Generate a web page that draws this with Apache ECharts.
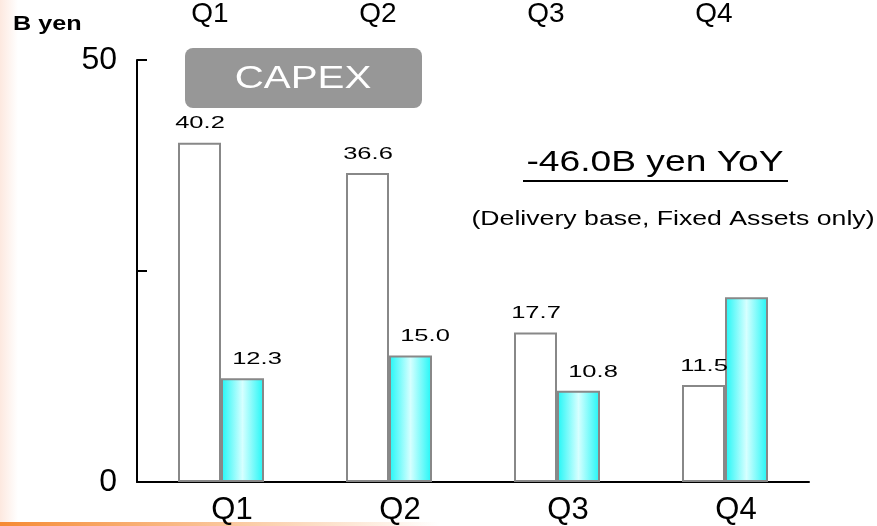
<!DOCTYPE html>
<html>
<head>
<meta charset="utf-8">
<script src="https://cdn.jsdelivr.net/npm/echarts@6/dist/echarts.min.js"></script>
<style>
  html, body { margin: 0; padding: 0; background: #fff; }
  #chart { width: 877px; height: 526px; }
</style>
</head>
<body>
<div id="chart"></div>
<script>
// Data
const quarters = ["Q1", "Q2", "Q3", "Q4"];
const planValues = [40.2, 36.6, 17.7, 11.5];    // white bars
const actualValues = [12.3, 15.0, 10.8, 21.9];  // cyan bars
const actualLabelShown = [true, true, true, false];
const yTickLabels = [0, 50];

const FONT = '"Liberation Sans", Arial, sans-serif';

const chartDom = document.getElementById("chart");
const myChart = echarts.init(chartDom);

// stretched value labels drawn through the axis scale
function valueLabels(values, dx, shown) {
  return {
    type: "custom",
    data: values.map((v, i) => [i, v]),
    z: 5,
    renderItem: (params, api) => {
      if (shown && !shown[params.dataIndex]) return null;
      const p = api.coord([api.value(0), api.value(1)]);
      return {
        type: "text",
        x: p[0] + dx,
        y: p[1] - 19,
        scaleX: 1.5,
        style: {
          text: api.value(1).toFixed(1),
          align: "center",
          verticalAlign: "middle",
          font: "17px " + FONT,
          fill: "#000",
        },
      };
    },
  };
}

const option = {
  backgroundColor: "#fff",
  animation: false,
  textStyle: { fontFamily: FONT },
  grid: { left: 137, right: 68, top: 60, bottom: 37 },
  xAxis: [
    {
      type: "category",
      data: quarters,
      position: "bottom",
      axisLine: { lineStyle: { color: "#000", width: 2 } },
      axisTick: { show: false },
      axisLabel: {
        fontSize: 31,
        color: "#000",
        margin: 13,
        padding: [0, 0, 0, 22],
      },
    },
    {
      type: "category",
      data: quarters,
      position: "top",
      axisLine: { show: false },
      axisTick: { show: false },
      axisLabel: {
        fontSize: 28,
        color: "#000",
        margin: 32,
        padding: [0, 22, 0, 0],
      },
    },
  ],
  yAxis: {
    type: "value",
    min: 0,
    max: 50,
    interval: 25,
    axisLine: { show: true, lineStyle: { color: "#000", width: 2 } },
    axisTick: { show: true, inside: true, length: 10, lineStyle: { color: "#000", width: 2 } },
    splitLine: { show: false },
    axisLabel: {
      fontSize: 32,
      color: "#000",
      margin: 20,
      padding: [0, 0, 20, 0],
      formatter: (v) => (yTickLabels.includes(v) ? String(v) : ""),
    },
  },
  series: [
    {
      name: "plan",
      type: "bar",
      data: planValues,
      barWidth: 43,
      barGap: "0%",
      itemStyle: { color: "#fff", borderColor: "#888", borderWidth: 2 },
    },
    {
      name: "actual",
      type: "bar",
      data: actualValues,
      barWidth: 43,
      barGap: "0%",
      itemStyle: {
        color: new echarts.graphic.LinearGradient(0, 0, 1, 0, [
          { offset: 0, color: "#1ef6f6" },
          { offset: 0.5, color: "#d6ffff" },
          { offset: 1, color: "#1ef6f6" },
        ]),
        borderColor: "#888",
        borderWidth: 2,
      },
    },
    valueLabels(planValues, -21),
    valueLabels(actualValues, 36, actualLabelShown),
  ],
  graphic: [
    // faint pink strip on the left edge
    {
      type: "rect",
      shape: { x: 0, y: 0, width: 18, height: 526 },
      style: {
        fill: new echarts.graphic.LinearGradient(0, 0, 1, 0, [
          { offset: 0, color: "rgba(250,205,185,0.45)" },
          { offset: 1, color: "rgba(250,205,185,0)" },
        ]),
      },
      silent: true,
    },
    // orange line at the bottom
    {
      type: "rect",
      shape: { x: 0, y: 522, width: 440, height: 4 },
      style: {
        fill: new echarts.graphic.LinearGradient(0, 0, 1, 0, [
          { offset: 0, color: "#f58a33" },
          { offset: 1, color: "rgba(245,138,51,0)" },
        ]),
      },
      silent: true,
    },
    {
      type: "text",
      x: 13,
      y: 24,
      scaleX: 1.2,
      style: { text: "B yen", font: "bold 21px " + FONT, fill: "#000", verticalAlign: "middle" },
    },
    {
      type: "rect",
      shape: { x: 185, y: 48, width: 237, height: 60, r: 8 },
      style: { fill: "#979797" },
    },
    {
      type: "text",
      x: 303,
      y: 79,
      scaleX: 1.3,
      style: { text: "CAPEX", font: "31px " + FONT, fill: "#fff", align: "center", verticalAlign: "middle" },
    },
    {
      type: "text",
      x: 655,
      y: 163,
      scaleX: 1.24,
      style: { text: "-46.0B yen YoY", font: "30px " + FONT, fill: "#000", align: "center", verticalAlign: "middle" },
    },
    {
      type: "line",
      shape: { x1: 523, y1: 181, x2: 788, y2: 181 },
      style: { stroke: "#000", lineWidth: 2 },
    },
    {
      type: "text",
      x: 673,
      y: 219,
      scaleX: 1.27,
      style: { text: "(Delivery base, Fixed Assets only)", font: "21px " + FONT, fill: "#000", align: "center", verticalAlign: "middle" },
    },
  ],
};

myChart.setOption(option);

window.addEventListener("resize", () => {
  myChart.resize();
});
</script>
</body>
</html>
